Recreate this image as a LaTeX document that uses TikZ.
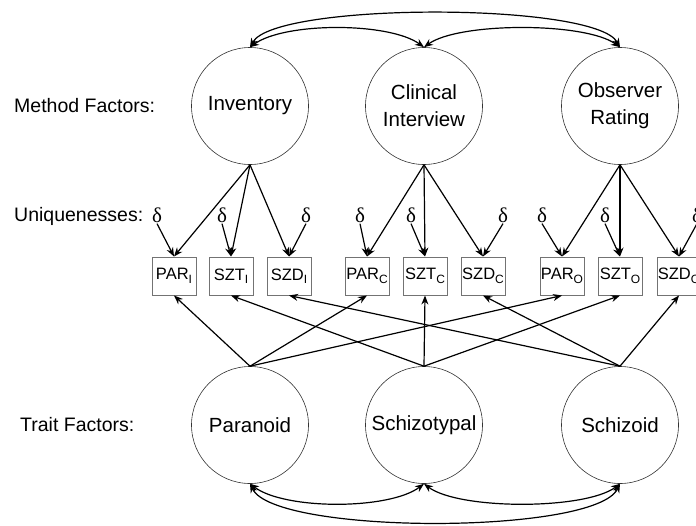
\documentclass[tikz,border=0pt]{standalone}
\usepackage{fontspec}
\setmainfont{Liberation Sans}
\newfontfamily\deltafont{Liberation Serif}
\usetikzlibrary{arrows.meta}
\newcommand\subx[1]{\raisebox{-3.5pt}{\fontsize{12}{12}\selectfont #1}}
\begin{document}
\begin{tikzpicture}[x=1pt,y=-1pt,
  factor/.style={circle, draw=black!80, line width=0.6pt, minimum size=117pt, inner sep=0pt,
    font=\fontsize{20.5}{27}\selectfont, align=center},
  obsbox/.style={rectangle, draw=black!55, line width=1pt, minimum width=44pt, minimum height=38pt,
    inner sep=0pt, font=\fontsize{16.5}{18}\selectfont},
  lab/.style={anchor=west, inner sep=0pt, font=\fontsize{19.5}{24}\selectfont},
  err/.style={inner sep=1pt, font=\deltafont\fontsize{21}{21}\selectfont},
  arr/.style={-{Stealth[length=9pt,width=7pt]}, line width=1.2pt},
  darr/.style={{Stealth[length=9pt,width=7pt]}-{Stealth[length=9pt,width=7pt]}, line width=1.2pt}]
\useasboundingbox (0,0) rectangle (696,525);

% labels
\node[lab] (lm) at (14,106) {Method Factors:};
\node[lab] (lu) at (14,216) {Uniquenesses:};
\node[lab] (lt) at (20,425) {Trait Factors:};

% method factors
\node[factor] (inv) at (250,106) {Inventory};
\node[factor] (cli) at (424,106) {Clinical\\Interview};
\node[factor] (obr) at (620,106) {Observer\\Rating};

% trait factors
\node[factor] (par) at (250,425) {Paranoid};
\node[factor] (szt) at (424,425) {Schizotypal};
\node[factor] (szd) at (620,425) {Schizoid};

% observed variables
\node[obsbox] (b1) at (174,276) {PAR\subx{I}};
\node[obsbox] (b2) at (231,276) {SZT\subx{I}};
\node[obsbox] (b3) at (289,276) {SZD\subx{I}};
\node[obsbox] (b4) at (367,276) {PAR\subx{C}};
\node[obsbox] (b5) at (425,276) {SZT\subx{C}};
\node[obsbox] (b6) at (483,276) {SZD\subx{C}};
\node[obsbox] (b7) at (562,276) {PAR\subx{O}};
\node[obsbox] (b8) at (620,276) {SZT\subx{O}};
\node[obsbox] (b9) at (679,276) {SZD\subx{O}};

% uniquenesses
\node[err] (d1) at (157,215) {δ};
\node[err] (d2) at (222,215) {δ};
\node[err] (d3) at (306,215) {δ};
\node[err] (d4) at (360,215) {δ};
\node[err] (d5) at (411,215) {δ};
\node[err] (d6) at (503,215) {δ};
\node[err] (d7) at (542,215) {δ};
\node[err] (d8) at (605,215) {δ};
\node[err] (d9) at (697,215) {δ};

\foreach \i in {1,...,9} {\draw[arr] (d\i.south) -- (b\i.north);}

% method loadings
\draw[arr] (inv.south) -- (b1.north);
\draw[arr] (inv.south) -- (b2.north);
\draw[arr] (inv.south) -- (b3.north);
\draw[arr] (cli.south) -- (b4.north);
\draw[arr] (cli.south) -- (b5.north);
\draw[arr] (cli.south) -- (b6.north);
\draw[arr] (obr.south) -- (b7.north);
\draw[arr] (obr.south) -- (b8.north);
\draw[arr] (obr.south) -- (b9.north);

% trait loadings
\draw[arr] (par.north) -- (b1.south);
\draw[arr] (par.north) -- (b4.south);
\draw[arr] (par.north) -- (b7.south);
\draw[arr] (szt.north) -- (b2.south);
\draw[arr] (szt.north) -- (b5.south);
\draw[arr] (szt.north) -- (b8.south);
\draw[arr] (szd.north) -- (b3.south);
\draw[arr] (szd.north) -- (b6.south);
\draw[arr] (szd.north) -- (b9.south);

% method correlations
\draw[darr] (inv.north) .. controls (275,2) and (595,2) .. (obr.north);
\draw[darr] (inv.north) .. controls (285,22) and (389,22) .. (cli.north);
\draw[darr] (cli.north) .. controls (459,22) and (585,22) .. (obr.north);

% trait correlations
\draw[darr] (par.south) .. controls (275,535) and (595,535) .. (szd.south);
\draw[darr] (par.south) .. controls (285,510) and (389,510) .. (szt.south);
\draw[darr] (szt.south) .. controls (459,510) and (585,510) .. (szd.south);
\end{tikzpicture}
\end{document}
